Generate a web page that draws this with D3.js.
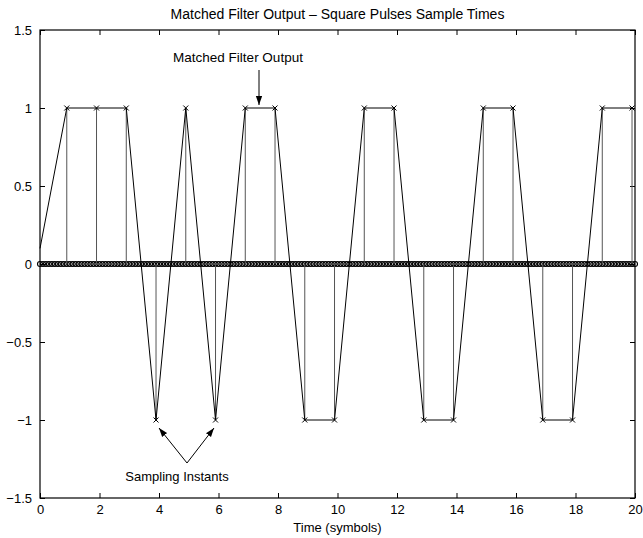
<!DOCTYPE html>
<html><head><meta charset="utf-8">
<script src="https://cdn.jsdelivr.net/npm/d3@7"></script>
<style>
html,body{margin:0;padding:0;background:#fff;}
text{font-family:"Liberation Sans",Arial,Helvetica,sans-serif;}
</style></head>
<body>
<svg id="chart" width="643" height="538"></svg>
<script>
// ---- data ----
const sampleTimes  = [0.9,1.9,2.9,3.9,4.9,5.9,6.9,7.9,8.9,9.9,10.9,11.9,12.9,13.9,14.9,15.9,16.9,17.9,18.9,19.9];
const sampleValues = [1,1,1,-1,1,-1,1,1,-1,-1,1,1,-1,-1,1,1,-1,-1,1,1];
const lineStart = {t:0, v:0.1};
const samplesPerSymbol = 10;
const numSymbols = 20;
const xTicks = [0,2,4,6,8,10,12,14,16,18,20];
const yTicks = [-1.5,-1,-0.5,0,0.5,1,1.5];
const titleText = "Matched Filter Output \u2013 Square Pulses Sample Times";
const xLabelText = "Time (symbols)";
const annoTop = "Matched Filter Output";
const annoBottom = "Sampling Instants";

// ---- layout ----
const L = 40, R = 635, T = 30, B = 498;
const FS = 13;
const svg = d3.select("#chart");
const x = d3.scaleLinear().domain([0,20]).range([L,R]);
const y = d3.scaleLinear().domain([-1.5,1.5]).range([B,T]);

const fmt = v => (v < 0 ? "\u2212" : "") + String(Math.abs(v));

// axes (ticks inward)
const tl = 5;
svg.append("g").attr("transform",`translate(0,${B})`)
  .call(d3.axisBottom(x).tickValues(xTicks).tickSizeInner(-tl).tickSizeOuter(0).tickPadding(7).tickFormat(d=>d))
  .call(g=>{g.select(".domain").remove();});
svg.append("g").attr("transform",`translate(0,${T})`)
  .call(d3.axisTop(x).tickValues(xTicks).tickSizeInner(-tl).tickSizeOuter(0).tickFormat(""))
  .call(g=>{g.select(".domain").remove();});
svg.append("g").attr("transform",`translate(${L},0)`)
  .call(d3.axisLeft(y).tickValues(yTicks).tickSizeInner(-tl).tickSizeOuter(0).tickPadding(8).tickFormat(fmt))
  .call(g=>{g.select(".domain").remove();});
svg.append("g").attr("transform",`translate(${R},0)`)
  .call(d3.axisRight(y).tickValues(yTicks).tickSizeInner(-tl).tickSizeOuter(0).tickFormat(""))
  .call(g=>{g.select(".domain").remove();});
svg.selectAll(".tick text").attr("font-size",FS).attr("fill","#000")
  .attr("font-family","'Liberation Sans',Arial,sans-serif");
svg.selectAll(".tick line").attr("stroke","#000");

// zero-valued sample circles
const zeroTimes = d3.range(0, numSymbols*samplesPerSymbol+1).map(i => i/samplesPerSymbol);
svg.append("g").selectAll("circle").data(zeroTimes).join("circle")
  .attr("cx", d=>x(d)).attr("cy", y(0)).attr("r", 2.5)
  .attr("fill","none").attr("stroke","#000").attr("stroke-width",1.1);

// stems
svg.append("g").selectAll("line").data(sampleTimes).join("line")
  .attr("x1",(d)=>x(d)).attr("x2",(d)=>x(d))
  .attr("y1",y(0)).attr("y2",(d,i)=>y(sampleValues[i]))
  .attr("stroke","#555").attr("stroke-width",1);

// connecting line
const pts = [[lineStart.t,lineStart.v]].concat(sampleTimes.map((t,i)=>[t,sampleValues[i]]));
svg.append("path").datum(pts)
  .attr("d", d3.line().x(d=>x(d[0])).y(d=>y(d[1])))
  .attr("fill","none").attr("stroke","#000").attr("stroke-width",1);

// x markers
const ms = 2.5;
svg.append("g").selectAll("path").data(sampleTimes).join("path")
  .attr("d",(d,i)=>{const cx=x(d), cy=y(sampleValues[i]);
    return `M${cx-ms},${cy-ms}L${cx+ms},${cy+ms}M${cx-ms},${cy+ms}L${cx+ms},${cy-ms}`;})
  .attr("stroke","#000").attr("stroke-width",1).attr("fill","none");

// frame
svg.append("rect").attr("x",L).attr("y",T).attr("width",R-L).attr("height",B-T)
  .attr("fill","none").attr("stroke","#000").attr("stroke-width",1.2);

// title & label
svg.append("text").attr("x",(L+R)/2).attr("y",19).attr("text-anchor","middle")
  .attr("font-size",14).text(titleText);
svg.append("text").attr("x",(L+R)/2).attr("y",532).attr("text-anchor","middle")
  .attr("font-size",FS).text(xLabelText);

// annotations
const defs = svg.append("defs");
defs.append("marker").attr("id","ah").attr("viewBox","0 0 10 10").attr("refX",10).attr("refY",5)
  .attr("markerWidth",9).attr("markerHeight",9).attr("markerUnits","userSpaceOnUse").attr("orient","auto")
  .append("path").attr("d","M0,1.5L10,5L0,8.5Z").attr("fill","#000");

svg.append("text").attr("x",238).attr("y",62).attr("text-anchor","middle").attr("font-size",13.5).text(annoTop);
svg.append("line").attr("x1",259).attr("y1",70).attr("x2",259).attr("y2",105)
  .attr("stroke","#000").attr("stroke-width",1).attr("marker-end","url(#ah)");

svg.append("text").attr("x",177).attr("y",481).attr("text-anchor","middle").attr("font-size",FS).text(annoBottom);
svg.append("line").attr("x1",187).attr("y1",463).attr("x2",159).attr("y2",428)
  .attr("stroke","#000").attr("stroke-width",1).attr("marker-end","url(#ah)");
svg.append("line").attr("x1",187).attr("y1",463).attr("x2",214).attr("y2",428)
  .attr("stroke","#000").attr("stroke-width",1).attr("marker-end","url(#ah)");
</script>
</body></html>
